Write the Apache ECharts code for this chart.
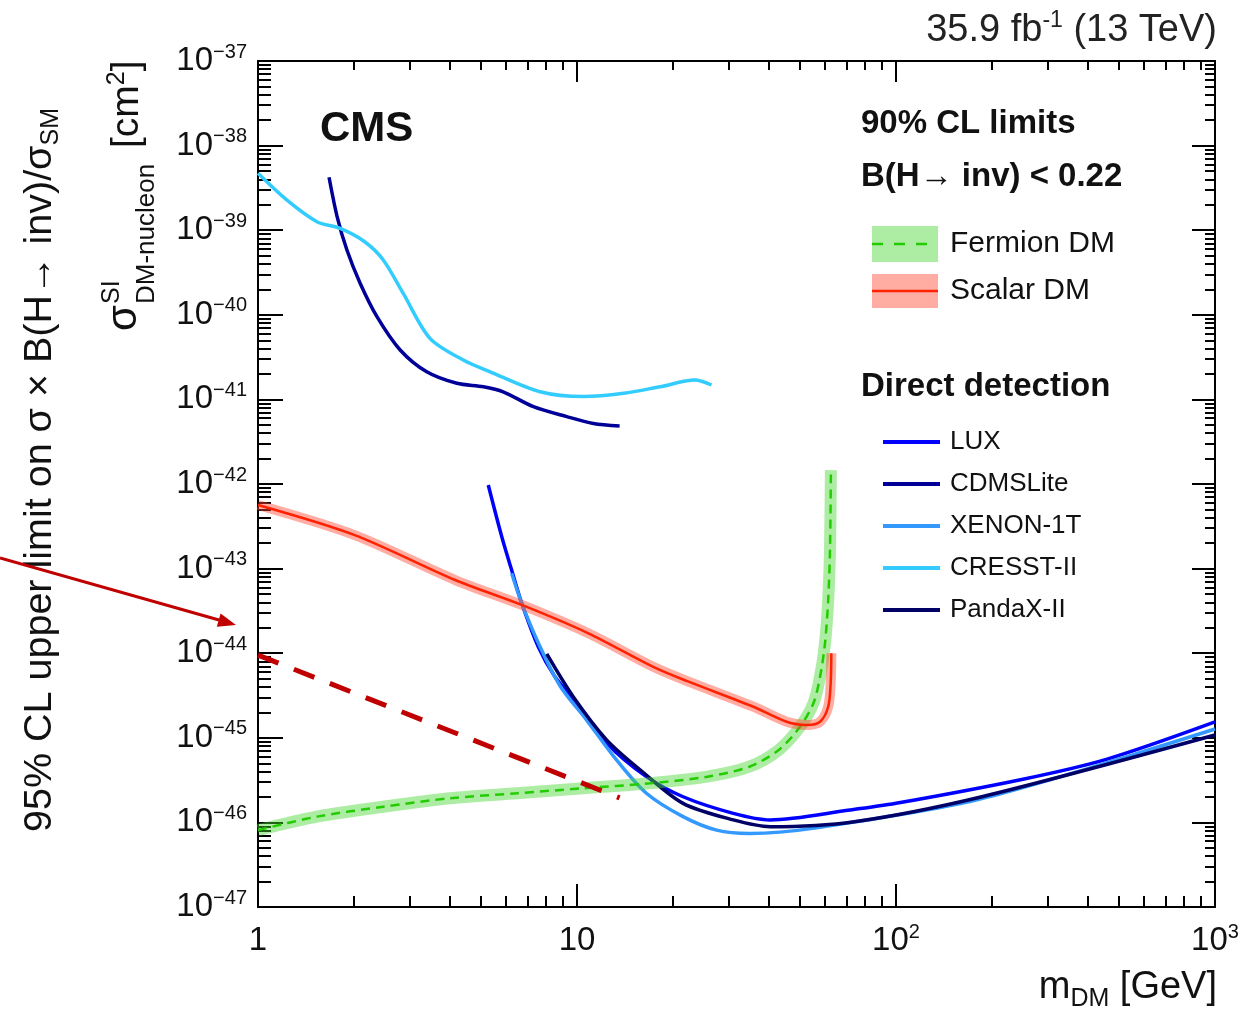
<!DOCTYPE html>
<html><head><meta charset="utf-8">
<script src="https://cdn.jsdelivr.net/npm/echarts@6/dist/echarts.min.js"></script>
<style>html,body{margin:0;padding:0;background:#fff}#c{width:1254px;height:1013px}</style>
</head><body><div id="c"></div>
<script>
const FONT = '"Liberation Sans", Arial, Helvetica, sans-serif';
const TXT = '#111';

// ---- axes ----
const xMajorTicks = [1, 10, 100, 1000];
const xTickLabels = ['{b|1}', '{b|10}', '{b|10}{s|2}', '{b|10}{s|3}'];
const minorMult = [2, 3, 4, 5, 6, 7, 8, 9];
const xMinorDecades = [1, 10, 100];
const yExponents = [-47, -46, -45, -44, -43, -42, -41, -40, -39, -38, -37];
const yTickLabels = yExponents.map(e => '{b|10}{s|\u2212' + (-e) + '}');
// y is plotted in units of 1e-47 cm^2 (log axis cannot hold 1e-47 ticks precisely)
const Y_UNIT = 1e-47;
const yMajorTicks = yExponents.map(e => Math.pow(10, e + 47));
const yMinorDecades = yMajorTicks.slice(0, -1);
const xMinorTicks = xMinorDecades.flatMap(d => minorMult.map(k => k * d));
const yMinorTicks = yMinorDecades.flatMap(d => minorMult.map(k => k * d));

// ---- data (m_DM [GeV], sigma [cm^2]) ----
const cresstMass  = [1.0, 1.23, 1.53, 1.81, 2.16, 2.47, 2.85, 3.46, 4.4, 5.34, 7.66, 10.5, 14.0, 18.2, 23.4, 26.4];
const cresstSigma = [4.7e-39, 2.28e-39, 1.26e-39, 1.05e-39, 7.3e-40, 4.45e-40, 1.8e-40, 5.27e-41, 2.92e-41, 2.12e-41, 1.23e-41, 1.08e-41, 1.18e-41, 1.41e-41, 1.69e-41, 1.48e-41];

const cdmsMass  = [1.67, 1.77, 1.90, 2.09, 2.36, 2.79, 3.38, 4.2, 5.09, 5.87, 7.3, 9.29, 11.25, 13.6];
const cdmsSigma = [4.22e-39, 1.45e-39, 5.83e-40, 2.36e-40, 9.5e-41, 3.84e-41, 2.12e-41, 1.55e-41, 1.41e-41, 1.23e-41, 8.2e-42, 6.25e-42, 5.2e-42, 4.85e-42];

const luxMass  = [5.27, 5.81, 6.24, 6.71, 7.56, 8.53, 9.98, 12.4, 16.5, 21.5, 30.9, 40.3, 71.7, 100, 250, 459, 1000];
const luxSigma = [9.73e-43, 2.38e-43, 9.6e-44, 3.89e-44, 1.19e-44, 5.27e-45, 2.56e-45, 8.6e-46, 3.47e-46, 2.01e-46, 1.28e-46, 1.07e-46, 1.4e-46, 1.68e-46, 3.24e-46, 5.6e-46, 1.54e-45];

const xenonMass  = [6.24, 6.71, 7.66, 8.85, 10.72, 13.3, 16.5, 21.5, 27.4, 34.8, 54.7, 184.5, 1000];
const xenonSigma = [8.8e-44, 3.89e-44, 1.19e-44, 4.1e-45, 1.62e-45, 5.47e-46, 2.21e-46, 1.17e-46, 8.1e-47, 7.4e-47, 8.5e-47, 1.9e-46, 1.27e-45];

const pandaMass  = [8.04, 9.73, 12.4, 15.8, 21.5, 30.9, 40.3, 74.1, 184.5, 1000];
const pandaSigma = [9.8e-45, 3.06e-45, 9.4e-46, 4.16e-46, 1.68e-46, 1.07e-46, 8.9e-47, 1.02e-46, 2.0e-46, 1.08e-45];

const fermionMass  = [1.0, 1.53, 2.47, 4.0, 6.47, 10.46, 16.94, 25.6, 34.7, 42.9, 50.0, 55.1, 57.8, 59.9, 61.3, 62.1, 62.5];
const fermionSigma = [8.1e-47, 1.17e-46, 1.53e-46, 1.93e-46, 2.21e-46, 2.53e-46, 2.9e-46, 3.47e-46, 4.55e-46, 7.18e-46, 1.35e-45, 2.56e-45, 5.27e-45, 1.31e-44, 4.26e-44, 1.66e-43, 1.46e-42];

const scalarMass  = [1.0, 2.01, 4.15, 6.71, 10.85, 17.34, 22.07, 35.7, 45.4, 52.5, 57.8, 61.3, 62.4, 62.7];
const scalarSigma = [5.65e-43, 2.49e-43, 7.33e-44, 3.72e-44, 1.72e-44, 6.9e-45, 4.7e-45, 2.33e-45, 1.55e-45, 1.42e-45, 1.55e-45, 2.33e-45, 4.4e-45, 1.0e-44];

const annotMass  = [1.0, 13.6];
const annotSigma = [9.5e-45, 1.95e-46];

const ddNames = ['LUX', 'CDMSLite', 'XENON-1T', 'CRESST-II', 'PandaX-II'];
const ddColors = ['#0000ff', '#000099', '#3399ff', '#33ccff', '#000066'];

function pairs(ms, ss) { return ms.map((m, i) => [m, ss[i] / Y_UNIT]); }
function idxOf(arr, v) {
  let best = 0, bd = Infinity;
  arr.forEach((t, i) => { const d = Math.abs(Math.log10(t) - Math.log10(v)); if (d < bd) { bd = d; best = i; } });
  return best;
}

const richTick = {
  b: { fontSize: 33, fontFamily: FONT, color: TXT, lineHeight: 44 },
  s: { fontSize: 20, fontFamily: FONT, color: TXT, lineHeight: 20, padding: [0, 0, 18, 0] }
};
const AX = { color: '#000', width: 2 };

function xAx(grid, pos, ticks, len, withLine, withLabel) {
  return {
    type: 'log', logBase: 10, min: 1, max: 1000, position: pos, gridIndex: grid,
    axisLine: { show: withLine, lineStyle: AX },
    axisTick: { show: true, inside: true, length: len, customValues: ticks, lineStyle: AX },
    minorTick: { show: false }, splitLine: { show: false },
    axisLabel: withLabel ? {
      show: true, customValues: xMajorTicks, margin: 12, color: TXT, fontFamily: FONT,
      formatter: v => xTickLabels[idxOf(xMajorTicks, v)], rich: richTick
    } : { show: false }
  };
}
function yAx(grid, pos, ticks, len, withLine, withLabel) {
  return {
    type: 'log', logBase: 10, min: yMajorTicks[0], max: yMajorTicks[yMajorTicks.length - 1], position: pos, gridIndex: grid,
    axisLine: { show: withLine, lineStyle: AX },
    axisTick: { show: true, inside: true, length: len, customValues: ticks, lineStyle: AX },
    minorTick: { show: false }, splitLine: { show: false },
    axisLabel: withLabel ? {
      show: true, customValues: yMajorTicks, margin: 11, color: TXT, fontFamily: FONT, align: 'right',
      formatter: v => yTickLabels[idxOf(yMajorTicks, v)], rich: richTick
    } : { show: false }
  };
}

const ddSrc = [[luxMass, luxSigma], [cdmsMass, cdmsSigma], [xenonMass, xenonSigma], [cresstMass, cresstSigma], [pandaMass, pandaSigma]];
const ddSeries = ddNames.map((n, i) => ({
  name: n, type: 'line', data: pairs(ddSrc[i][0], ddSrc[i][1]), showSymbol: false, symbol: 'none',
  smooth: 0.3, color: ddColors[i], xAxisIndex: 0, yAxisIndex: 0,
  lineStyle: { color: ddColors[i], width: 3.5 }, z: 2 + i * 0.01
}));

const GRID = { left: 258, right: 39, top: 61, bottom: 106, containLabel: false };
const option = {
  animation: false,
  backgroundColor: '#fff',
  grid: [Object.assign({}, GRID), Object.assign({}, GRID)],
  xAxis: [
    xAx(0, 'bottom', xMajorTicks, 23, true, true),
    xAx(0, 'top', xMajorTicks, 21, true, false),
    xAx(1, 'bottom', xMinorTicks, 11, false, false),
    xAx(1, 'top', xMinorTicks, 9, false, false)
  ],
  yAxis: [
    yAx(0, 'left', yMajorTicks, 25, true, true),
    yAx(0, 'right', yMajorTicks, 23, true, false),
    yAx(1, 'left', yMinorTicks, 13, false, false),
    yAx(1, 'right', yMinorTicks, 10, false, false)
  ],
  legend: {
    data: ddNames, orient: 'vertical', left: 883, top: 427, padding: 0,
    icon: 'rect', itemWidth: 57, itemHeight: 4, itemGap: 12,
    textStyle: { fontSize: 26, fontFamily: FONT, color: TXT, lineHeight: 30, padding: [0, 0, 0, 5] },
    selectedMode: false
  },
  series: [
    ...ddSeries,
    { name: 'Fermion band', type: 'line', data: pairs(fermionMass, fermionSigma), symbol: 'none', smooth: 0.3,
      lineStyle: { color: 'rgba(70,215,50,0.45)', width: 12 }, z: 3 },
    { name: 'Fermion DM', type: 'line', data: pairs(fermionMass, fermionSigma), symbol: 'none', smooth: 0.3,
      lineStyle: { color: '#22cc00', width: 2.5, type: [9, 6] }, z: 3.1 },
    { name: 'Scalar band', type: 'line', data: pairs(scalarMass, scalarSigma), symbol: 'none', smooth: 0.3,
      lineStyle: { color: 'rgba(255,70,50,0.45)', width: 10 }, z: 3.2 },
    { name: 'Scalar DM', type: 'line', data: pairs(scalarMass, scalarSigma), symbol: 'none', smooth: 0.3,
      lineStyle: { color: '#ff2200', width: 2.5 }, z: 3.3 },
    { name: 'annotation', type: 'line', data: pairs(annotMass, annotSigma), symbol: 'none',
      lineStyle: { color: '#c00000', width: 5, type: [22, 16.6] }, z: 4 }
  ],
  graphic: [
    { type: 'text', x: 1217, y: 31, style: { text: '{a|35.9 fb}{s|-1}{a| (13 TeV)}', align: 'right', verticalAlign: 'middle',
      rich: { a: { fontSize: 38, fontFamily: FONT, fill: '#222', lineHeight: 46 }, s: { fontSize: 23, fontFamily: FONT, fill: '#222', padding: [0, 0, 20, 0] } } } },
    { type: 'text', x: 320, y: 129, style: { text: 'CMS', font: 'bold 42px ' + FONT, fill: TXT, align: 'left', verticalAlign: 'middle' } },
    { type: 'text', x: 861, y: 124, style: { text: '90% CL limits', font: 'bold 33px ' + FONT, fill: TXT, align: 'left', verticalAlign: 'middle' } },
    { type: 'text', x: 861, y: 177, style: { text: 'B(H\u2192 inv) < 0.22', font: 'bold 33px ' + FONT, fill: TXT, align: 'left', verticalAlign: 'middle' } },
    { type: 'rect', shape: { x: 872, y: 226, width: 66, height: 36 }, style: { fill: 'rgba(70,215,50,0.45)' } },
    { type: 'line', shape: { x1: 872, y1: 244, x2: 938, y2: 244 }, style: { stroke: '#22cc00', lineWidth: 2.5, lineDash: [11, 11] } },
    { type: 'text', x: 950, y: 244, style: { text: 'Fermion DM', font: '30px ' + FONT, fill: TXT, align: 'left', verticalAlign: 'middle' } },
    { type: 'rect', shape: { x: 872, y: 274, width: 66, height: 34 }, style: { fill: 'rgba(255,70,50,0.45)' } },
    { type: 'line', shape: { x1: 872, y1: 291, x2: 938, y2: 291 }, style: { stroke: '#ff2200', lineWidth: 2.5 } },
    { type: 'text', x: 950, y: 291, style: { text: 'Scalar DM', font: '30px ' + FONT, fill: TXT, align: 'left', verticalAlign: 'middle' } },
    { type: 'text', x: 861, y: 387, style: { text: 'Direct detection', font: 'bold 33px ' + FONT, fill: TXT, align: 'left', verticalAlign: 'middle' } },
    { type: 'text', x: 1217, y: 988, style: { text: '{a|m}{b|DM}{a| [GeV]}', align: 'right', verticalAlign: 'middle',
      rich: { a: { fontSize: 38, fontFamily: FONT, fill: TXT, lineHeight: 46 }, b: { fontSize: 25, fontFamily: FONT, fill: TXT, padding: [22, 0, 0, 0] } } } },
    { type: 'text', x: 40, y: 832, rotation: Math.PI / 2, style: { text: '{a|95% CL upper limit on \u03c3 \u00d7 B(H\u2192 inv)/\u03c3}{b|SM}', align: 'left', verticalAlign: 'middle',
      rich: { a: { fontSize: 39.5, fontFamily: FONT, fill: TXT, lineHeight: 46 }, b: { fontSize: 25, fontFamily: FONT, fill: TXT, padding: [22, 0, 0, 0] } } } },
    { type: 'text', x: 124, y: 331, rotation: Math.PI / 2, style: { text: '\u03c3', font: '42px ' + FONT, fill: TXT, align: 'left', verticalAlign: 'middle' } },
    { type: 'text', x: 112, y: 304, rotation: Math.PI / 2, style: { text: 'SI', font: '25px ' + FONT, fill: TXT, align: 'left', verticalAlign: 'middle' } },
    { type: 'text', x: 147, y: 304, rotation: Math.PI / 2, style: { text: 'DM-nucleon', font: '26px ' + FONT, fill: TXT, align: 'left', verticalAlign: 'middle' } },
    { type: 'text', x: 127, y: 148, rotation: Math.PI / 2, style: { text: '{a|[cm}{s|2}{a|]}', align: 'left', verticalAlign: 'middle',
      rich: { a: { fontSize: 39, fontFamily: FONT, fill: TXT, lineHeight: 46 }, s: { fontSize: 25, fontFamily: FONT, fill: TXT, padding: [0, 0, 20, 0] } } } },
    { type: 'line', shape: { x1: 0, y1: 558, x2: 219, y2: 620 }, style: { stroke: '#c00000', lineWidth: 3 }, z: 10 },
    { type: 'polygon', shape: { points: [[236, 625], [216.8, 626.8], [220.6, 613.4]] }, style: { fill: '#c00000' }, z: 10 }
  ]
};

const chart = echarts.init(document.getElementById('c'), null, { renderer: 'canvas', width: 1254, height: 1013 });
chart.setOption(option);
</script>
</body></html>
